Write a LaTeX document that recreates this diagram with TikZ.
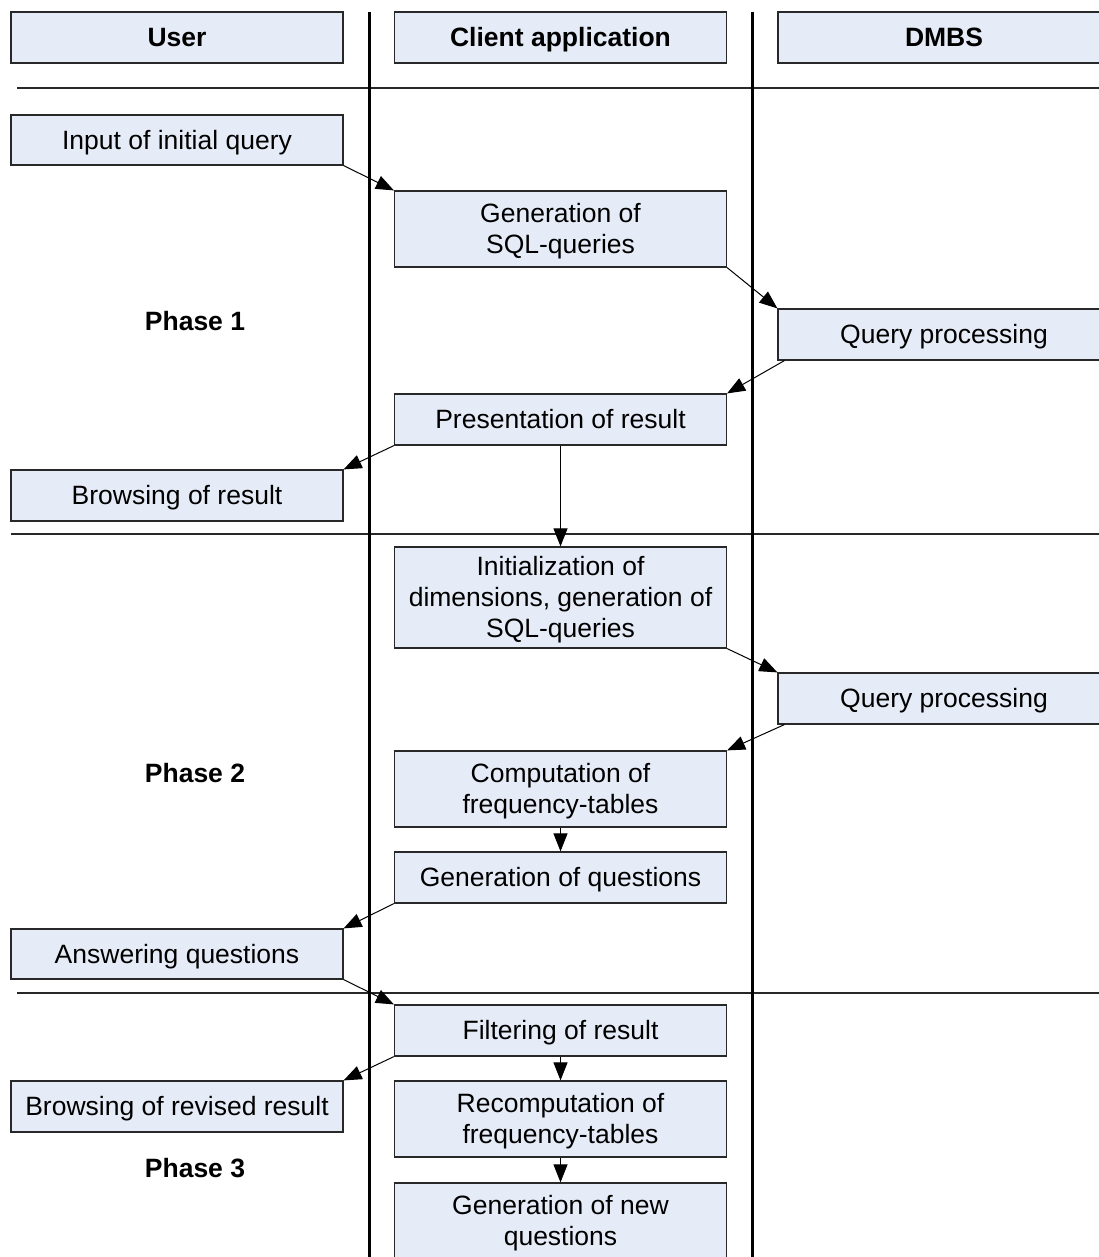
\documentclass[tikz,border=0pt]{standalone}
\usepackage{fontspec}
\setmainfont{Liberation Sans}
\usetikzlibrary{arrows.meta,calc}
\definecolor{boxblue}{RGB}{230,236,247}
\definecolor{edgegray}{RGB}{40,40,40}
% strut matching the font's ascender and descender, one per text line
\newcommand\linestrut{\rule[-0.212em]{0pt}{1.117em}}
\begin{document}
\begin{tikzpicture}[x=1pt,y=-1pt,
  txt/.style={font=\fontsize{26.5}{31}\selectfont},
  box/.style={txt, draw=edgegray, line width=1.2pt, fill=boxblue,
    minimum width=332pt, minimum height=51pt, inner sep=0pt, align=center},
  headbox/.style={box, font=\fontsize{26.5}{31}\selectfont\bfseries},
  phase/.style={font=\fontsize{26.5}{31}\selectfont\bfseries},
  lane/.style={line width=3pt, black},
  divider/.style={line width=1.3pt, edgegray},
  flow/.style={line width=1pt, black, -{Triangle[length=18pt,width=14pt]}}]
\useasboundingbox (0,0) rectangle (1099,1257);

% phase separators
\draw[divider] (17,88) -- (1099,88);
\draw[divider] (11,534) -- (1099,534);
\draw[divider] (17,993) -- (1099,993);

% swimlane borders
\draw[lane] (369,12) -- (369,1262);
\draw[lane] (752,12) -- (752,1262);

% lane headers
\node[headbox] (user)   at (177,37.5)   {\linestrut User};
\node[headbox] (client) at (560.5,37.5) {\linestrut Client application};
\node[headbox] (dbms)   at (944,37.5)   {\linestrut DMBS};

% phase 1
\node[box, minimum height=50pt] (input) at (177,140) {\linestrut Input of initial query};
\node[box, minimum height=76pt] (gensql) at (560.5,229) {\linestrut Generation of\\\linestrut SQL-queries};
\node[box] (qp1) at (944,334.5) {\linestrut Query processing};
\node[box] (pres) at (560.5,419.5) {\linestrut Presentation of result};
\node[box] (browse) at (177,495.5) {\linestrut Browsing of result};
\node[phase] (ph1) at (195,321) {\linestrut Phase 1};

% phase 2
\node[box, minimum height=101pt] (init) at (560.5,597.5) {\linestrut Initialization of\\\linestrut dimensions, generation of\\\linestrut SQL-queries};
\node[box] (qp2) at (944,698.5) {\linestrut Query processing};
\node[box, minimum height=76pt] (comp) at (560.5,789) {\linestrut Computation of\\\linestrut frequency-tables};
\node[box] (genq) at (560.5,877.5) {\linestrut Generation of questions};
\node[box, minimum height=50pt] (answer) at (177,954) {\linestrut Answering questions};
\node[phase] (ph2) at (195,773) {\linestrut Phase 2};

% phase 3
\node[box] (filter) at (560.5,1030.5) {\linestrut Filtering of result};
\node[box] (browserev) at (177,1106.5) {\linestrut Browsing of revised result};
\node[box, minimum height=76pt] (recomp) at (560.5,1119) {\linestrut Recomputation of\\\linestrut frequency-tables};
\node[box, minimum height=76pt] (gennew) at (560.5,1221) {\linestrut Generation of new\\\linestrut questions};
\node[phase] (ph3) at (195,1168) {\linestrut Phase 3};

% message flow
\draw[flow] (input.south east) -- (gensql.north west);
\draw[flow] (gensql.south east) -- (qp1.north west);
\draw[flow] ($(qp1.south west)+(7,0)$) -- (pres.north east);
\draw[flow] (pres.south west) -- (browse.north east);
\draw[flow] (pres.south) -- (init.north);
\draw[flow] (init.south east) -- (qp2.north west);
\draw[flow] ($(qp2.south west)+(7,0)$) -- (comp.north east);
\draw[flow] (comp.south) -- (genq.north);
\draw[flow] (genq.south west) -- (answer.north east);
\draw[flow] (answer.south east) -- (filter.north west);
\draw[flow] (filter.south west) -- (browserev.north east);
\draw[flow] (filter.south) -- (recomp.north);
\draw[flow] (recomp.south) -- (gennew.north);
\end{tikzpicture}
\end{document}
